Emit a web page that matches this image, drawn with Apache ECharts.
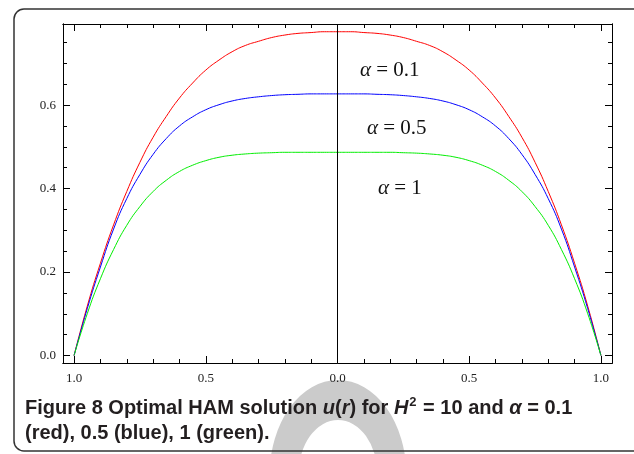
<!DOCTYPE html>
<html>
<head>
<meta charset="utf-8">
<script src="https://cdn.jsdelivr.net/npm/echarts@6/dist/echarts.min.js"></script>
<style>
  html, body { margin: 0; padding: 0; background: #fff; }
  #main { width: 634px; height: 454px; }
</style>
</head>
<body>
<div id="main"></div>
<script>
// distance from the centre, the curves are symmetric in r
var rValues = [0, 0.05, 0.1, 0.15, 0.2, 0.25, 0.3, 0.35, 0.4, 0.45, 0.5, 0.55, 0.6, 0.65, 0.7, 0.75, 0.8, 0.85, 0.9, 0.95, 1];
var redValues = [0.776, 0.776, 0.774, 0.772, 0.768, 0.762, 0.753, 0.743, 0.728, 0.708, 0.684, 0.653, 0.617, 0.573, 0.523, 0.463, 0.393, 0.313, 0.221, 0.118, 0];
var blueValues = [0.627, 0.627, 0.627, 0.626, 0.625, 0.623, 0.620, 0.616, 0.610, 0.601, 0.589, 0.572, 0.550, 0.520, 0.482, 0.434, 0.376, 0.303, 0.212, 0.112, 0];
var greenValues = [0.487, 0.487, 0.487, 0.487, 0.487, 0.486, 0.485, 0.483, 0.480, 0.475, 0.467, 0.456, 0.441, 0.420, 0.393, 0.357, 0.312, 0.254, 0.184, 0.100, 0];

var xMajor = [-1, -0.5, 0, 0.5, 1];
var xMinor = [-0.9, -0.8, -0.7, -0.6, -0.4, -0.3, -0.2, -0.1, 0.1, 0.2, 0.3, 0.4, 0.6, 0.7, 0.8, 0.9];
var yMajor = [0, 0.2, 0.4, 0.6];
var yMinor = [0.05, 0.1, 0.15, 0.25, 0.3, 0.35, 0.45, 0.5, 0.55, 0.65, 0.7, 0.75];
var curveLabels = ['0.1', '0.5', '1'];

var myChart = echarts.init(document.getElementById('main'));

// both halves of the profile
function mirror(vals) {
    var pts = [];
    for (var i = rValues.length - 1; i > 0; i--) pts.push([-rValues[i], vals[i]]);
    for (var j = 0; j < rValues.length; j++) pts.push([rValues[j], vals[j]]);
    return pts;
}

var serif = 'Liberation Serif';
var gridBox = { left: 63, top: 24, right: 22, bottom: 91 };
var XMIN = -1.042, XMAX = 1.042, YMIN = -0.018, YMAX = 0.7945;

function xAx(grid, pos, ticks, len, labels) {
    return {
        type: 'value', gridIndex: grid, position: pos, min: XMIN, max: XMAX,
        axisLine: { show: true, onZero: false, lineStyle: { color: '#000', width: 1 } },
        axisTick: { show: true, inside: true, length: len, customValues: ticks, lineStyle: { color: '#000' } },
        axisLabel: labels ? {
            show: true, customValues: ticks, margin: 9, color: '#222', fontFamily: serif, fontSize: 13,
            formatter: function (v) { return Math.abs(v).toFixed(1); }
        } : { show: false },
        splitLine: { show: false }
    };
}
function yAx(grid, pos, ticks, len, labels) {
    return {
        type: 'value', gridIndex: grid, position: pos, min: YMIN, max: YMAX,
        axisLine: { show: true, onZero: false, lineStyle: { color: '#000', width: 1 } },
        axisTick: { show: true, inside: true, length: len, customValues: ticks, lineStyle: { color: '#000' } },
        axisLabel: labels ? {
            show: true, customValues: ticks, margin: 7, color: '#222', fontFamily: serif, fontSize: 13,
            formatter: function (v) { return v.toFixed(1); }
        } : { show: false },
        splitLine: { show: false }
    };
}

function line(name, color, vals) {
    return {
        name: name, type: 'line', xAxisIndex: 0, yAxisIndex: 0,
        data: mirror(vals), showSymbol: false, smooth: true, silent: true,
        lineStyle: { color: color, width: 1 }
    };
}

var series = [
    line('red', '#ff0000', redValues),
    line('blue', '#0000ff', blueValues),
    line('green', '#00ee00', greenValues)
];
// vertical line at r = 0
series[0].markLine = {
    silent: true, symbol: 'none', label: { show: false },
    lineStyle: { color: '#000', width: 1, type: 'solid' },
    data: [{ xAxis: 0 }]
};

function alphaText(x, y, val) {
    return {
        type: 'text', left: x, top: y,
        style: {
            text: '{a|α}{b| = ' + val + '}',
            rich: {
                a: { fontFamily: serif, fontStyle: 'italic', fontSize: 21, fill: '#111' },
                b: { fontFamily: serif, fontSize: 21, fill: '#111' }
            }
        }
    };
}

var capFont = 'Liberation Sans';
var capRich = {
    n: { fontFamily: capFont, fontWeight: 'bold', fontSize: 20, fill: '#231f20' },
    i: { fontFamily: capFont, fontWeight: 'bold', fontStyle: 'italic', fontSize: 20, fill: '#231f20' },
    s: { fontFamily: capFont, fontWeight: 'bold', fontSize: 13, fill: '#231f20', verticalAlign: 'top', padding: [0, 1, 9, 1] }
};

var option = {
    animation: false,
    backgroundColor: '#fff',
    grid: [
        Object.assign({ containLabel: false }, gridBox),
        Object.assign({ containLabel: false }, gridBox)
    ],
    xAxis: [
        xAx(0, 'bottom', xMajor, 7, true),
        xAx(0, 'top', xMajor, 7, false),
        xAx(1, 'bottom', xMinor, 4, false),
        xAx(1, 'top', xMinor, 4, false)
    ],
    yAxis: [
        yAx(0, 'left', yMajor, 7, true),
        yAx(0, 'right', yMajor, 7, false),
        yAx(1, 'left', yMinor, 4, false),
        yAx(1, 'right', yMinor, 4, false)
    ],
    series: series,
    graphic: [
        // faint watermark arc behind the caption
        {
            type: 'sector', z: -1, silent: true,
            x: 338, y: 475, scaleX: 0.72, scaleY: 1,
            shape: { cx: 0, cy: 0, r: 95, r0: 55, startAngle: Math.PI, endAngle: 2 * Math.PI },
            style: { fill: '#cbcbcb' }
        },
        // rounded frame round the figure
        {
            type: 'rect', silent: true,
            shape: { x: 14, y: 9, width: 640, height: 442, r: 10 },
            style: { fill: 'none', stroke: '#333', lineWidth: 1.5 }
        },
        alphaText(360, 60, curveLabels[0]),
        alphaText(367, 118, curveLabels[1]),
        alphaText(378, 178, curveLabels[2]),
        {
            type: 'text', left: 25, top: 396,
            style: {
                text: '{n|Figure 8 Optimal HAM solution }{i|u}{n|(}{i|r}{n|) for }{i|H}{s|2}{n| = 10 and }{i|α}{n| = 0.1}\n{n|(red), 0.5 (blue), 1 (green).}',
                lineHeight: 25,
                rich: capRich
            }
        }
    ]
};

myChart.setOption(option);
</script>
</body>
</html>
